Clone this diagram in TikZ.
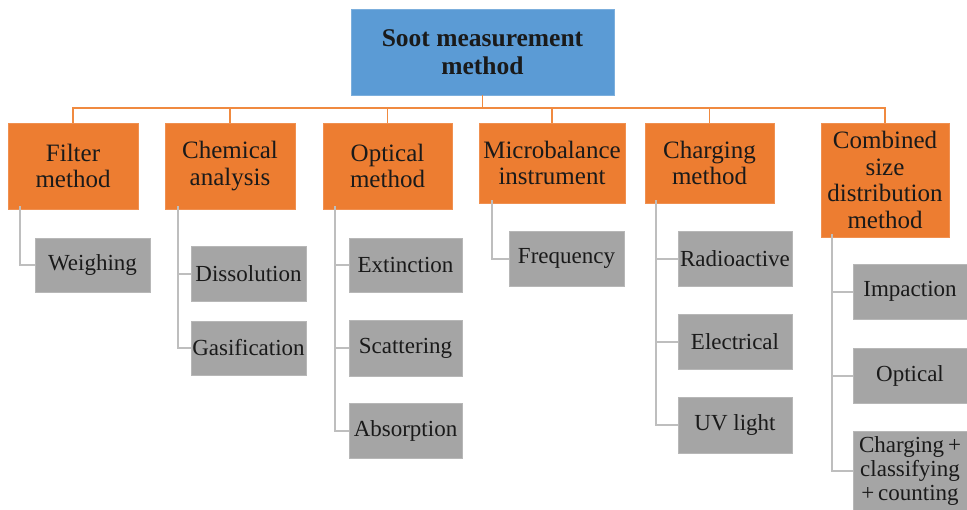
\documentclass[tikz,border=0pt]{standalone}
\usepackage{fontspec}
\setmainfont{Liberation Serif}
\usetikzlibrary{positioning}
\definecolor{topblue}{HTML}{5B9BD5}
\definecolor{catorange}{HTML}{ED7D31}
\definecolor{leafgray}{HTML}{A5A5A5}
\definecolor{busorange}{HTML}{F08A40}
\definecolor{linkgray}{HTML}{BEBEBE}
\definecolor{txt}{HTML}{1A1A1A}
\begin{document}
\begin{tikzpicture}[x=1pt,y=-1pt,
  titlebox/.style={fill=topblue,draw=topblue!80!white,line width=0.6pt,text=txt,align=center,inner sep=0pt,
     font=\fontsize{25.5}{28}\selectfont\bfseries},
  catbox/.style={fill=catorange,draw=catorange!85!white,line width=0.6pt,text=txt,align=center,inner sep=0pt,
     font=\fontsize{25}{26.5}\selectfont},
  leafbox/.style={fill=leafgray,draw=leafgray!80!white,line width=0.6pt,text=txt,align=center,inner sep=0pt,
     font=\fontsize{23}{24}\selectfont},
  buslink/.style={draw=busorange,line width=1.5pt},
  leaflink/.style={draw=linkgray,line width=2pt}]
\useasboundingbox (0,0) rectangle (967,509);

% top
\node[titlebox,minimum width=263pt,minimum height=86pt] (top) at (482.5,52) {Soot measurement\\method};

% categories
\node[catbox,minimum width=130pt,minimum height=86pt] (filter) at (73,166) {Filter\\method};
\node[catbox,minimum width=130pt,minimum height=86pt] (chem) at (230,166) {Chemical\\analysis};
\node[catbox,minimum width=129pt,minimum height=86pt] (opt) at (387.5,166) {Optical\\method};
\node[catbox,minimum width=146pt,minimum height=80pt] (micro) at (552,163) {Microbalance\\instrument};
\node[catbox,minimum width=129pt,minimum height=80pt] (charg) at (709.5,163) {Charging\\method};
\node[catbox,minimum width=128pt,minimum height=114pt] (comb) at (885,180) {Combined\\size\\distribution\\method};

% leaves
\node[leafbox,minimum width=115pt,minimum height=54pt] (weigh) at (92.5,265) {Weighing};
\node[leafbox,minimum width=115pt,minimum height=55pt] (diss) at (248.5,273.5) {Dissolution};
\node[leafbox,minimum width=115pt,minimum height=54pt] (gas) at (248.5,348) {Gasification};
\node[leafbox,minimum width=113pt,minimum height=54pt] (ext) at (405.5,265) {Extinction};
\node[leafbox,minimum width=113pt,minimum height=56pt] (scat) at (405.5,348) {Scattering};
\node[leafbox,minimum width=113pt,minimum height=55pt] (abs) at (405.5,430.5) {Absorption};
\node[leafbox,minimum width=115pt,minimum height=55pt] (freq) at (566.5,258.5) {Frequency};
\node[leafbox,minimum width=114pt,minimum height=55pt] (radio) at (735,258.5) {Radioactive};
\node[leafbox,minimum width=114pt,minimum height=55pt] (elec) at (735,341.5) {Electrical};
\node[leafbox,minimum width=114pt,minimum height=56pt] (uv) at (735,425) {UV light};
\node[leafbox,minimum width=114pt,minimum height=55pt] (imp) at (910,291.5) {Impaction};
\node[leafbox,minimum width=114pt,minimum height=55pt] (optl) at (910,375.5) {Optical};
\node[leafbox,minimum width=114pt,minimum height=80pt] (cnt) at (910,471) {Charging\,+\\classifying\\+\,counting};

% bus
\coordinate (busy) at (0,108);
\draw[buslink] (top.south) -- (top.south |- busy);
\draw[buslink] (filter.north) -- (filter.north |- busy) -- (comb.north |- busy) -- (comb.north);
\foreach \n in {chem,opt,micro,charg}
  \draw[buslink] (\n.north) -- (\n.north |- busy);

% leaf links
\draw[leaflink] ([xshift=12pt,yshift=3pt]filter.south west) |- (weigh.west);
\draw[leaflink] ([xshift=13pt,yshift=3pt]chem.south west) |- (diss.west);
\draw[leaflink] ([xshift=13pt,yshift=3pt]chem.south west) |- (gas.west);
\draw[leaflink] ([xshift=12pt,yshift=3pt]opt.south west) |- (ext.west);
\draw[leaflink] ([xshift=12pt,yshift=3pt]opt.south west) |- (scat.west);
\draw[leaflink] ([xshift=12pt,yshift=3pt]opt.south west) |- (abs.west);
\draw[leaflink] ([xshift=13pt,yshift=3pt]micro.south west) |- (freq.west);
\draw[leaflink] ([xshift=11pt,yshift=3pt]charg.south west) |- (radio.west);
\draw[leaflink] ([xshift=11pt,yshift=3pt]charg.south west) |- (elec.west);
\draw[leaflink] ([xshift=11pt,yshift=3pt]charg.south west) |- (uv.west);
\draw[leaflink] ([xshift=11pt,yshift=3pt]comb.south west) |- (imp.west);
\draw[leaflink] ([xshift=11pt,yshift=3pt]comb.south west) |- (optl.west);
\draw[leaflink] ([xshift=11pt,yshift=3pt]comb.south west) |- (cnt.west);
\end{tikzpicture}
\end{document}
